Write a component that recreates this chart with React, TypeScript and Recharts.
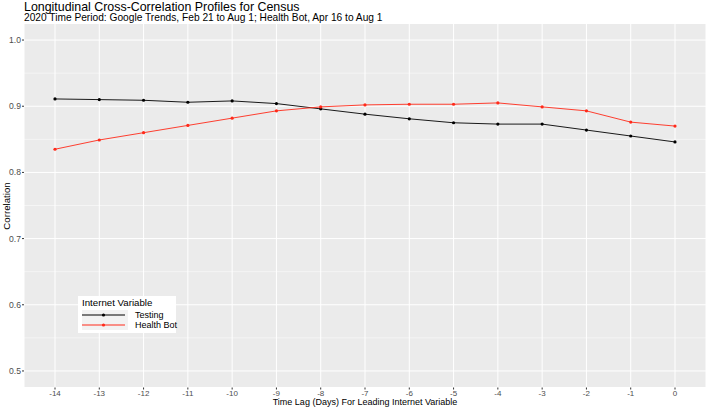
import React from 'react'
import { LineChart, Line, XAxis, YAxis, CartesianGrid } from 'recharts'

const lags = [-14, -13, -12, -11, -10, -9, -8, -7, -6, -5, -4, -3, -2, -1, 0]
const testing = [0.911, 0.910, 0.909, 0.906, 0.908, 0.904, 0.896, 0.888, 0.881, 0.875, 0.873, 0.873, 0.864, 0.855, 0.846]
const healthBot = [0.835, 0.849, 0.860, 0.871, 0.882, 0.893, 0.899, 0.902, 0.903, 0.903, 0.905, 0.899, 0.893, 0.876, 0.870]
const yTicks = [0.5, 0.6, 0.7, 0.8, 0.9, 1.0]
const yMinor = [0.55, 0.65, 0.75, 0.85, 0.95]

const data = lags.map((lag, i) => ({ lag, testing: testing[i], healthBot: healthBot[i] }))

const FONT = '"Liberation Sans", Arial, sans-serif'
const RED = '#ff2a1a'

function Key({ color }: { color: string }) {
  return (
    <svg width={46} height={10} style={{ display: 'block' }}>
      <line x1={0} x2={43} y1={5} y2={5} stroke={color} strokeWidth={1} />
      <circle cx={21.5} cy={5} r={1.6} fill={color} />
    </svg>
  )
}

export default function App() {
  return (
    <div style={{ position: 'absolute', left: 0, top: 0, width: 708, height: 408, background: '#fff', fontFamily: FONT }}>
      <div style={{ position: 'absolute', left: 24, top: 0.5, fontSize: 12.4, lineHeight: '13px', color: '#000', whiteSpace: 'nowrap' }}>
        Longitudinal Cross-Correlation Profiles for Census
      </div>
      <div style={{ position: 'absolute', left: 24, top: 13, fontSize: 10.2, lineHeight: '10px', color: '#000', whiteSpace: 'nowrap' }}>
        2020 Time Period: Google Trends, Feb 21 to Aug 1; Health Bot, Apr 16 to Aug 1
      </div>
      <LineChart width={708} height={408} data={data} margin={{ top: 23.5, right: 2, bottom: 0, left: 0 }}>
        <CartesianGrid horizontalValues={yMinor} vertical={false} stroke="#fff" strokeWidth={0.5} fill="#EBEBEB" />
        <CartesianGrid stroke="#fff" strokeWidth={1} />
        <XAxis dataKey="lag" type="number" domain={[-14.7, 0.7]} ticks={lags} interval={0} height={20.5}
          axisLine={false} tickLine={{ stroke: '#333' }} tickSize={2} tickMargin={0.5}
          tick={{ fontSize: 8, fill: '#4D4D4D', fontFamily: FONT }} allowDataOverflow />
        <YAxis type="number" domain={[0.475, 1.025]} ticks={yTicks} width={24} interval={0}
          axisLine={false} tickLine={{ stroke: '#333' }} tickSize={2} tickMargin={1}
          tickFormatter={(v) => Number(v).toFixed(1)}
          tick={{ fontSize: 8.6, fill: '#4D4D4D', fontFamily: FONT }} allowDataOverflow />
        <Line dataKey="testing" stroke="#000" strokeWidth={0.9} isAnimationActive={false}
          dot={{ r: 1.6, fill: '#000', stroke: 'none' }} activeDot={false} />
        <Line dataKey="healthBot" stroke={RED} strokeWidth={0.9} isAnimationActive={false}
          dot={{ r: 1.6, fill: RED, stroke: 'none' }} activeDot={false} />
      </LineChart>
      <div style={{ position: 'absolute', left: 0, top: 205.5, width: 12, height: 0 }}>
        <div style={{ position: 'absolute', left: 6, top: 0, transform: 'translate(-50%, -50%) rotate(-90deg)', fontSize: 9.7, whiteSpace: 'nowrap', color: '#000' }}>
          Correlation
        </div>
      </div>
      <div style={{ position: 'absolute', left: 24, width: 682, top: 397.5, textAlign: 'center', fontSize: 9, lineHeight: '9px', color: '#000' }}>
        Time Lag (Days) For Leading Internet Variable
      </div>
      <div style={{ position: 'absolute', left: 78, top: 296, width: 98, height: 37, background: '#fff' }}>
        <div style={{ position: 'absolute', left: 4, top: 2, fontSize: 9.7, lineHeight: '10px', color: '#000', whiteSpace: 'nowrap' }}>Internet Variable</div>
        <div style={{ position: 'absolute', left: 4, top: 14, width: 46, height: 20, background: '#F2F2F2' }} />
        <div style={{ position: 'absolute', left: 4, top: 14 }}><Key color="#000" /></div>
        <div style={{ position: 'absolute', left: 4, top: 24 }}><Key color={RED} /></div>
        <div style={{ position: 'absolute', left: 57, top: 14, fontSize: 9, lineHeight: '10px', color: '#000', whiteSpace: 'nowrap' }}>Testing</div>
        <div style={{ position: 'absolute', left: 57, top: 24, fontSize: 9, lineHeight: '10px', color: '#000', whiteSpace: 'nowrap' }}>Health Bot</div>
      </div>
    </div>
  )
}
